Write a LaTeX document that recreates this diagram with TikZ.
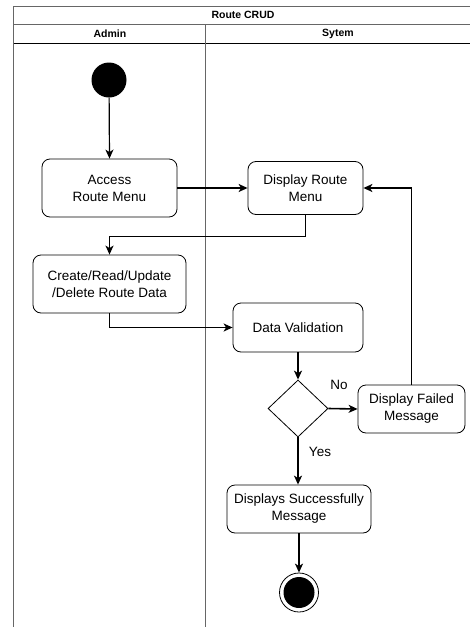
\documentclass[tikz,border=0pt]{standalone}
\usepackage{fontspec}
\setmainfont{Liberation Sans}
\usetikzlibrary{arrows.meta,shapes.geometric}
\begin{document}
\begin{tikzpicture}[x=1pt,y=-1pt,
  act/.style={draw, rounded corners=8pt, line width=0.8pt, align=center, inner sep=0pt,
    font=\fontsize{13.5}{17}\selectfont},
  flow/.style={line width=1.6pt, -{Stealth[length=9pt,width=8pt,inset=2.5pt]}},
  lbl/.style={font=\fontsize{13.5}{16}\selectfont, inner sep=0pt},
  hdr/.style={font=\bfseries\fontsize{10.5}{12}\selectfont, inner sep=0pt},
  frameline/.style={draw=black!60, line width=0.8pt}
]
\useasboundingbox (0,0) rectangle (469,627);
% frame
\draw[frameline] (472,6) -- (13.5,6) -- (13.5,628);
\draw[frameline] (13.5,24) -- (472,24);
\draw[line width=1pt] (13.5,43) -- (472,43);
\draw[frameline] (205,24) -- (205,628);
\node[hdr] (title) at (243,15) {Route CRUD};
\node[hdr] (admin) at (110,33.5) {Admin};
\node[hdr] (sytem) at (338,33.5) {Sytem};
% nodes
\node[circle, fill=black, minimum size=35pt, inner sep=0pt] (start) at (109,80) {};
\node[act, minimum width=135pt, minimum height=58pt] (access) at (109.5,188) {Access\\Route Menu};
\node[act, minimum width=115pt, minimum height=53pt] (disp) at (305.5,188) {Display Route\\Menu};
\node[act, minimum width=153pt, minimum height=58pt] (create) at (109.5,284) {Create/Read/Update\\/Delete Route Data};
\node[act, minimum width=130pt, minimum height=49pt] (dv) at (298,327.5) {Data Validation};
\node[diamond, draw, line width=0.8pt, minimum width=60pt, minimum height=57pt, inner sep=0pt] (dia) at (298,408.5) {};
\node[act, minimum width=107pt, minimum height=48pt] (fail) at (411.5,409) {Display Failed\\Message};
\node[act, minimum width=144pt, minimum height=48pt] (succ) at (299,509) {Displays Successfully\\Message};
\node[circle, draw, line width=0.8pt, minimum size=39pt, inner sep=0pt] (end) at (299,592.5) {};
\fill (end.center) circle (15.5);
\node[lbl] (no) at (339,385) {No};
\node[lbl] (yes) at (320,452) {Yes};
% connectors
\draw[flow, line width=1.2pt] (start) -- (access.north);
\draw[flow] (access.east) -- (access.east -| disp.west);
\draw[flow] (disp.south) -- ++(0,21.5) -| (create.north);
\draw[flow] (create.south) |- (dv.west);
\draw[flow] (dv.south -| dia.north) -- (dia.north);
\draw[flow] (dia.east) -- (fail.west);
\draw[flow] (fail.north) |- (disp.east);
\draw[flow] (dia.south) -- (dia.south |- succ.north);
\draw[flow] (succ.south -| end.north) -- (end.north);
\end{tikzpicture}
\end{document}
